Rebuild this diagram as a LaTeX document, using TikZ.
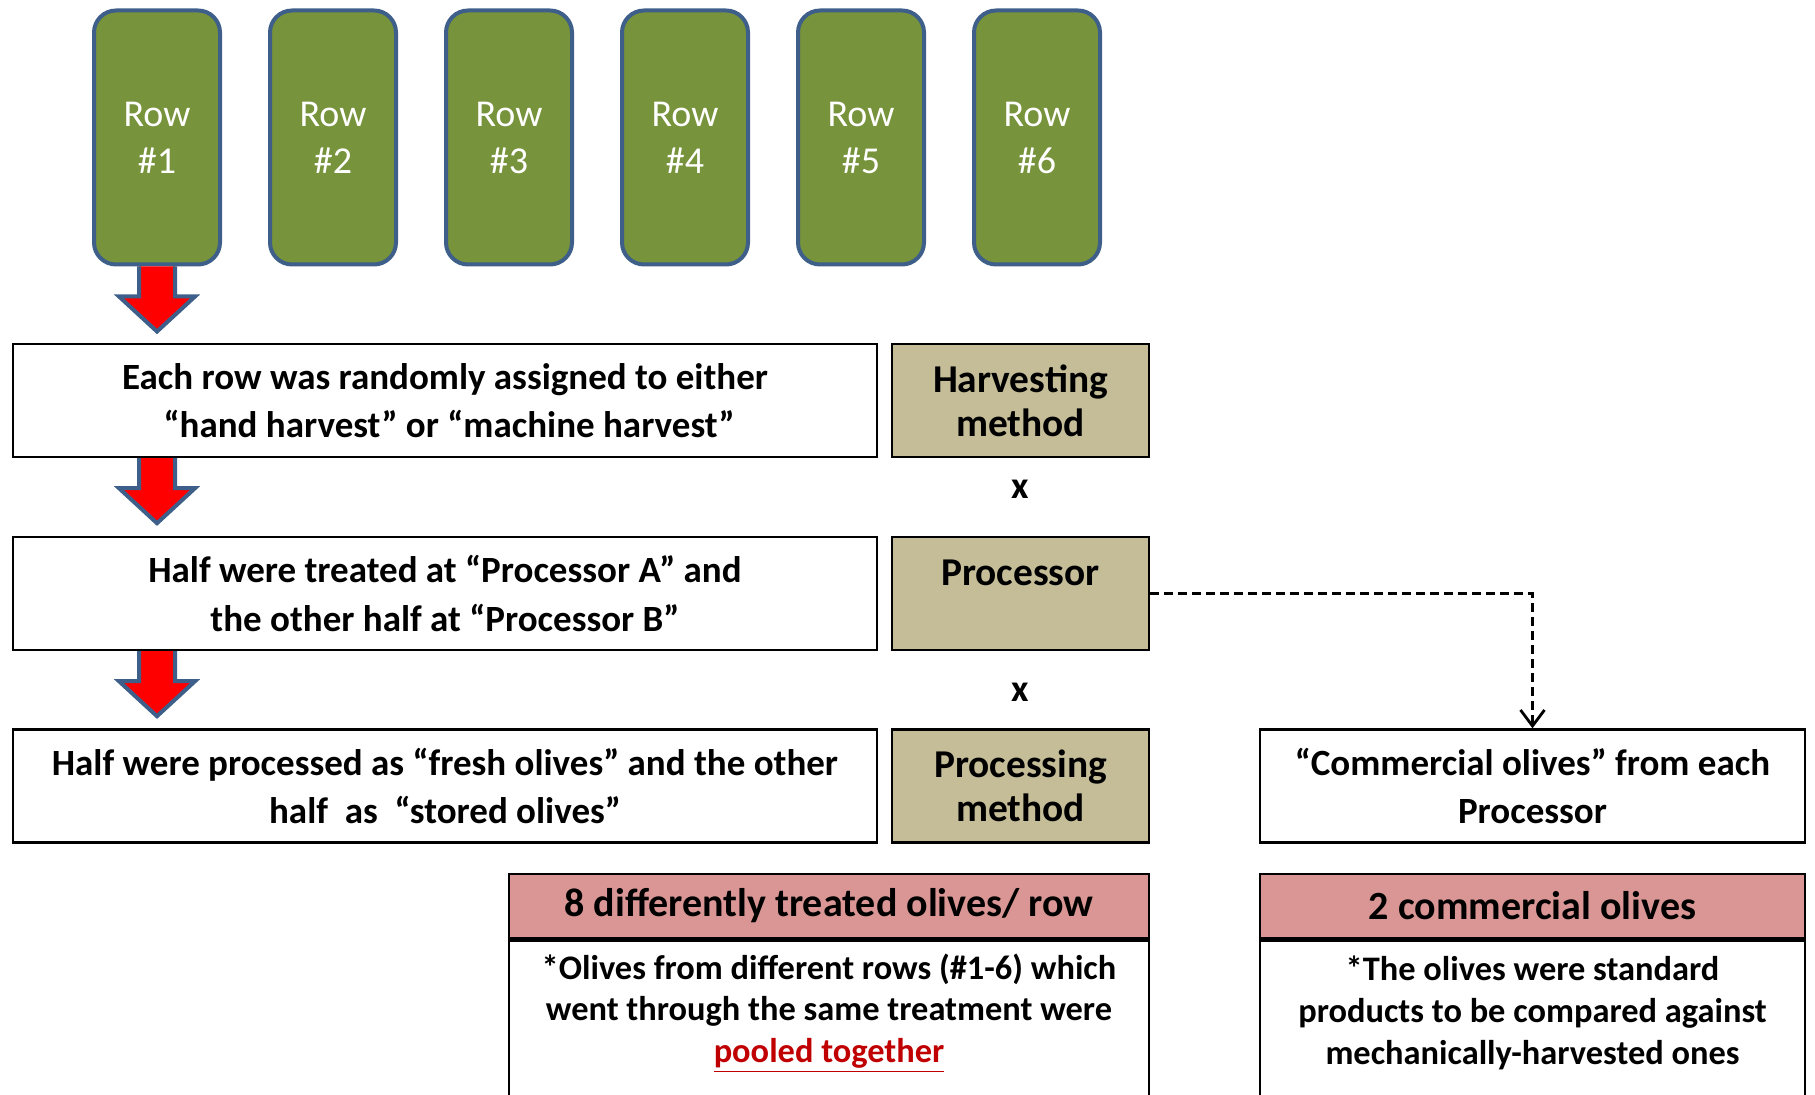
\documentclass[tikz,border=0pt]{standalone}
\usepackage{fontspec}
\setmainfont{Carlito}
\usetikzlibrary{calc,arrows.meta}
\definecolor{rowgreen}{HTML}{77933C}
\definecolor{rowedge}{HTML}{3E5F8A}
\definecolor{facttan}{HTML}{C4BD97}
\definecolor{headpink}{HTML}{D99694}
\definecolor{pooledred}{HTML}{C00000}

% big red block arrow hanging under a point
\newcommand{\fatarrow}[1]{%
\filldraw[fill=red,draw=rowedge,line width=2pt,line join=miter]
  ($(#1)+(-18,0)$) -- ($(#1)+(-18,30)$) -- ($(#1)+(-38,30)$)
  -- ($(#1)+(0,65)$) -- ($(#1)+(38,30)$) -- ($(#1)+(18,30)$)
  -- ($(#1)+(18,0)$);}

\begin{document}
\begin{tikzpicture}[x=0.5pt,y=-0.5pt,
  rowbox/.style={draw=rowedge,fill=rowgreen,line width=2pt,rounded corners=11pt,
    minimum width=63pt,minimum height=127pt,inner sep=0pt,text=white,align=center,
    font=\fontsize{19}{23.5}\selectfont},
  stepbox/.style={draw=black,line width=1.2pt,fill=white,minimum width=432pt,
    minimum height=56.5pt,inner sep=0pt,align=center,
    font=\bfseries\fontsize{18.5}{24.3}\selectfont},
  factorbox/.style={draw=black,line width=1.2pt,fill=facttan,minimum width=128.5pt,
    minimum height=56.5pt,inner sep=0pt,align=center,
    font=\bfseries\fontsize{19.7}{22}\selectfont},
  headbox/.style={draw=black,line width=1.3pt,fill=headpink,minimum height=32pt,
    inner sep=0pt,font=\bfseries\fontsize{20}{24}\selectfont},
  notebox/.style={draw=black,line width=1.2pt,fill=white,minimum height=95pt,
    inner sep=0pt,anchor=north},
  notetext/.style={align=center,inner sep=0pt,
    font=\bfseries\fontsize{17.2}{20.9}\selectfont},
  times/.style={font=\bfseries\fontsize{19}{22}\selectfont,inner sep=0pt}]
\useasboundingbox (0,0) rectangle (1815,1095);
   % \draw[help lines,step=50] (0,0) grid (1815,1095);

\foreach \i in {1,...,6}
  \node[rowbox] (row\i) at ({157+176*(\i-1)},137.5) {Row\\\#\i};

\node[stepbox] (assign) at (445,400.5) {Each row was randomly assigned to either\\
  \ “hand harvest” or “machine harvest”};
\node[stepbox] (proca) at (445,593.5) {Half were treated at “Processor A” and\\
  the other half at “Processor B”};
\node[stepbox] (fresh) at (445,786) {Half were processed as “fresh olives” and the other\\
  half\ \ as\ \ “stored olives”};

\node[factorbox] (harvest) at (1020.5,400.5) {Harvesting\\method};
\node[factorbox] (proc) at (1020.5,593.5) {Processor\\[-8pt]\strut};
\node[factorbox] (method) at (1020.5,786) {Processing\\method};
\node[times] (x1) at (1020,489) {x};
\node[times] (x2) at (1020,692) {x};

\node[stepbox,minimum width=272.5pt] (comm) at (1532.5,786) {“Commercial olives” from each\\
  Processor};

\fatarrow{row1.south}
\fatarrow{row1.south |- assign.south}
\fatarrow{row1.south |- proca.south}

\draw[dashed,dash pattern=on 4.5pt off 2.5pt,line width=1.4pt,
  -{Straight Barb[length=8pt,width=12pt,line width=1.4pt]}] (proc.east) -| (comm.north);

% results
\node[headbox,minimum width=320pt] (treated) at (829,906) {8 differently treated olives/ row};
\node[notebox,minimum width=320pt] (pooledbox) at (treated.south) {};
\node[notetext] (pooled) at (829,1013) {*Olives from different rows (\#1-6) which\\
  went through the same treatment were\\
  \textcolor{pooledred}{\underline{pooled together}}};
\node[headbox,minimum width=272.5pt] (twocomm) at (1532.5,906) {2 commercial olives};
\node[notebox,minimum width=272.5pt] (stdbox) at (twocomm.south) {};
\node[notetext] (std) at (1532.5,1013) {*The olives were standard\\
  products to be compared against\\
  mechanically-harvested ones};
\draw[line width=2pt] (treated.south west) -- (treated.south east);
\draw[line width=2pt] (twocomm.south west) -- (twocomm.south east);
\end{tikzpicture}
\end{document}
